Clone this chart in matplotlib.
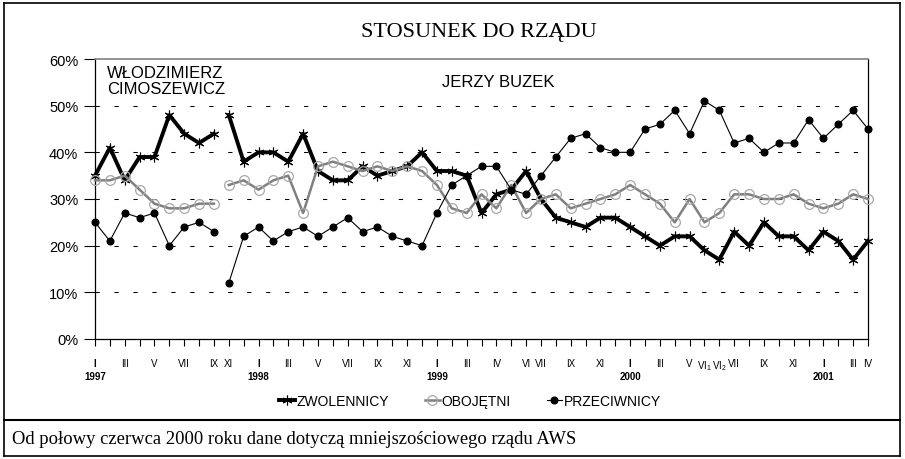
import matplotlib
matplotlib.use('Agg')
import matplotlib.pyplot as plt
from matplotlib.lines import Line2D
import numpy as np

# ---------------- data ----------------
tick_labels = [
    'I\n1997', '', 'III', '', 'V', '', 'VII', '', 'IX', 'XI', '',
    'I\n1998', '', 'III', '', 'V', '', 'VII', '', 'IX', '', 'XI', '',
    'I\n1999', '', 'III', '', 'IV', '', 'VI', 'VII', '', 'IX', '', 'XI', '',
    'I\n2000', '', 'III', '', 'V', 'VI$_1$', 'VI$_2$', 'VII', '', 'IX', '', 'XI', '',
    'I\n2001', '', 'III', 'IV',
]

zwolennicy = [35, 41, 34, 39, 39, 48, 44, 42, 44,
              48, 38, 40, 40, 38, 44, 36, 34, 34,
              37, 35, 36, 37, 40, 36, 36, 35,
              27, 31, 32, 36, 30, 26, 25, 24, 26, 26,
              24, 22, 20, 22, 22, 19, 17, 23, 20, 25, 22, 22, 19,
              23, 21, 17, 21]

obojetni = [34, 34, 35, 32, 29, 28, 28, 29, 29,
            33, 34, 32, 34, 35, 27, 37, 38, 37,
            36, 37, 36, 37, 36, 33, 28, 27,
            31, 28, 33, 27, 30, 31, 28, 29, 30, 31,
            33, 31, 29, 25, 30, 25, 27, 31, 31, 30, 30, 31, 29,
            28, 29, 31, 30]

przeciwnicy = [25, 21, 27, 26, 27, 20, 24, 25, 23,
               12, 22, 24, 21, 23, 24, 22, 24, 26,
               23, 24, 22, 21, 20, 27, 33, 35,
               37, 37, 32, 31, 35, 39, 43, 44, 41, 40,
               40, 45, 46, 49, 44, 51, 49, 42, 43, 40, 42, 42, 47,
               43, 46, 49, 45]

series_names = ['ZWOLENNICY', 'OBOJĘTNI', 'PRZECIWNICY']
government_change_index = 9   # first survey of the Buzek government (XI 1997)

# ---------------- figure ----------------
W, H = 905, 460
plt.rcParams['font.family'] = ['Liberation Sans', 'DejaVu Sans']
plt.rcParams['mathtext.fontset'] = 'custom'
plt.rcParams['mathtext.rm'] = 'Liberation Sans'
plt.rcParams['mathtext.it'] = 'Liberation Sans'

fig = plt.figure(figsize=(W / 100, H / 100), dpi=100)
fig.patch.set_facecolor('white')

def fx(px):
    return px / W

def fy(py):
    return 1 - py / H

left, right, top, bottom = 95, 868, 60, 340
ax = fig.add_axes([fx(left), fy(bottom), fx(right) - fx(left), fy(top) - fy(bottom)])

x = np.arange(len(tick_labels))
zw = np.array(zwolennicy, dtype=float)
ob = np.array(obojetni, dtype=float)
pr = np.array(przeciwnicy, dtype=float)

segs = [slice(0, government_change_index), slice(government_change_index, None)]
for k, s in enumerate(segs):
    ax.plot(x[s], zw[s], color='black', lw=2.8, marker=(6, 2, 0), ms=7,
            mec='black', mew=0.8, clip_on=False, zorder=3,
            label=series_names[0] if k == 0 else None)
    ax.plot(x[s], ob[s], color='#808080', lw=1.8, marker='o', ms=7,
            mfc='none', mec='#a8a8a8', mew=0.9, clip_on=False, zorder=4,
            label=series_names[1] if k == 0 else None)
    ax.plot(x[s], pr[s], color='black', lw=0.8, marker='o', ms=4.8,
            mfc='black', mec='black', clip_on=False, zorder=5,
            label=series_names[2] if k == 0 else None)

ax.set_xlim(0, len(tick_labels) - 1)
ax.set_ylim(0, 60)

yt = np.arange(0, 61, 10)
ax.set_yticks(yt)
ax.set_yticklabels([f'{v}%' for v in yt], fontsize=10.5)
for v in yt[1:-1]:
    ax.axhline(v, color='black', lw=0.75, linestyle=(0, (4.1, 14.1)), zorder=1)

ax.set_xticks(x)
ax.set_xticklabels(tick_labels, fontsize=7, linespacing=1.3)
for lab, txt in zip(ax.get_xticklabels(), tick_labels):
    if '\n' in txt:
        lab.set_fontweight('bold')

ax.tick_params(axis='x', direction='out', length=5, width=0.8, pad=9, colors='black')
ax.tick_params(axis='y', direction='out', length=8, width=0.8, pad=4)

for side in ['left', 'bottom', 'right']:
    ax.spines[side].set_color('black')
    ax.spines[side].set_linewidth(0.9)
ax.spines['top'].set_color('#808080')
ax.spines['top'].set_linewidth(1.2)

# text annotations
fig.text(fx(107), fy(66), 'WŁODZIMIERZ\nCIMOSZEWICZ', fontsize=12, ha='left', va='top',
         linespacing=1.05)
fig.text(fx(498), fy(83), 'JERZY BUZEK', fontsize=12, ha='center', va='center')

# title & footnote
fig.text(fx(479), fy(33), 'STOSUNEK DO RZĄDU', family=['Liberation Serif', 'DejaVu Serif'],
         fontsize=16, ha='center', va='center')
fig.text(fx(12), fy(440), 'Od połowy czerwca 2000 roku dane dotyczą mniejszościowego rządu AWS',
         family=['Liberation Serif', 'DejaVu Serif'], fontsize=13.4, ha='left', va='center')

# legend
fig.legend(loc='center', bbox_to_anchor=(fx(470), fy(402)), ncol=3, frameon=False,
           fontsize=10, handlelength=1.1, handletextpad=0.1, columnspacing=2.6,
           numpoints=1)

# outer frame & separator
frame_kw = dict(color='black', lw=1.2, transform=fig.transFigure)
fig.add_artist(Line2D([fx(4), fx(900)], [fy(4), fy(4)], **frame_kw))
fig.add_artist(Line2D([fx(4), fx(900)], [fy(457), fy(457)], **frame_kw))
fig.add_artist(Line2D([fx(4), fx(4)], [fy(4), fy(457)], **frame_kw))
fig.add_artist(Line2D([fx(900), fx(900)], [fy(4), fy(457)], **frame_kw))
fig.add_artist(Line2D([fx(4), fx(900)], [fy(421), fy(421)], color='black', lw=1.5,
                      transform=fig.transFigure))

fig.savefig('out.png', dpi=100)
